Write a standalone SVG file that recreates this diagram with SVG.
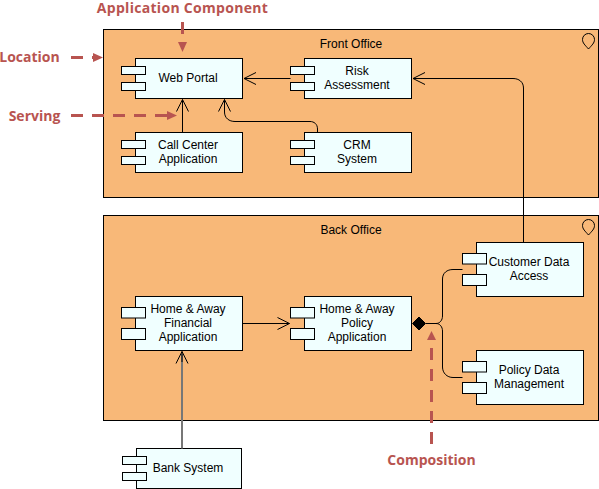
<svg xmlns="http://www.w3.org/2000/svg" width="599" height="489" viewBox="0 0 599 489">
<defs>
<style>
.loc{fill:#F8B878;stroke:#000;stroke-width:1}
.body,.tab{fill:#F0FFFF;stroke:#000;stroke-width:1}
.t{font-family:"Liberation Sans",Arial,sans-serif;font-size:12px;fill:#000;text-anchor:middle}
.pin{fill:none;stroke:#000;stroke-width:1}
.c{fill:none;stroke:#000;stroke-width:1}
.a{fill:none;stroke:#B85450;stroke-width:3;stroke-dasharray:12 9}
.l{font-family:"Open Sans","Liberation Sans",sans-serif;font-weight:700;font-size:14px;fill:#B85450;text-anchor:middle}
</style>
<marker id="open" markerUnits="userSpaceOnUse" markerWidth="16" markerHeight="16" refX="14" refY="7" orient="auto" viewBox="0 0 16 14"><path d="M2 1L14 7L2 13" fill="none" stroke="#000"/></marker>
<marker id="dia" markerUnits="userSpaceOnUse" markerWidth="16" markerHeight="14" refX="14.500" refY="7" orient="auto" viewBox="0 0 16 14"><path d="M1 7L7.500 .5L14 7L7.500 13.500Z" fill="#000" stroke="#000"/></marker>
</defs>
<g id="front-office"><rect class="loc" x="103.500" y="29.500" width="495" height="168"/><text class="t" x="351" y="48">Front Office</text><path class="pin" d="M588.500 49C585 45 582.500 43 582.500 39.500A6 6 0 0 1 594.500 39.500C594.500 43 592 45 588.500 49Z"/></g>
<g id="back-office"><rect class="loc" x="103.500" y="215.500" width="495" height="205"/><text class="t" x="351" y="234">Back Office</text><path class="pin" d="M588.500 235C585 231 582.500 229 582.500 225.500A6 6 0 0 1 594.500 225.500C594.500 229 592 231 588.500 235Z"/></g>
<g id="web-portal"><rect class="body" x="135.500" y="58.500" width="107" height="40"/><rect class="tab" x="121.500" y="66.500" width="24" height="8"/><rect class="tab" x="121.500" y="82.500" width="24" height="8"/><text class="t" x="188" y="82">Web Portal</text></g>
<g id="call-center"><rect class="body" x="135.500" y="132.500" width="107" height="40"/><rect class="tab" x="121.500" y="140.500" width="24" height="8"/><rect class="tab" x="121.500" y="156.500" width="24" height="8"/><text class="t" x="188" y="149">Call Center</text><text class="t" x="188" y="163">Application</text></g>
<g id="risk"><rect class="body" x="304.500" y="58.500" width="107" height="40"/><rect class="tab" x="290.500" y="66.500" width="24" height="8"/><rect class="tab" x="290.500" y="82.500" width="24" height="8"/><text class="t" x="357" y="75">Risk</text><text class="t" x="357" y="89">Assessment</text></g>
<g id="crm"><rect class="body" x="304.500" y="132.500" width="107" height="40"/><rect class="tab" x="290.500" y="140.500" width="24" height="8"/><rect class="tab" x="290.500" y="156.500" width="24" height="8"/><text class="t" x="357" y="149">CRM</text><text class="t" x="357" y="163">System</text></g>
<g id="customer"><rect class="body" x="476.500" y="242.500" width="107" height="54"/><rect class="tab" x="462.500" y="253.500" width="24" height="10.500"/><rect class="tab" x="462.500" y="274.500" width="24" height="11"/><text class="t" x="529" y="266">Customer Data</text><text class="t" x="529" y="280">Access</text></g>
<g id="policy-data"><rect class="body" x="476.500" y="350.500" width="107" height="54"/><rect class="tab" x="462.500" y="361.500" width="24" height="10.500"/><rect class="tab" x="462.500" y="382.500" width="24" height="11"/><text class="t" x="529" y="374">Policy Data</text><text class="t" x="529" y="388">Management</text></g>
<g id="financial"><rect class="body" x="135.500" y="296.500" width="107" height="54"/><rect class="tab" x="121.500" y="307.500" width="24" height="10.500"/><rect class="tab" x="121.500" y="328.500" width="24" height="11"/><text class="t" x="188" y="313">Home &amp; Away</text><text class="t" x="188" y="327">Financial</text><text class="t" x="188" y="341">Application</text></g>
<g id="policy-app"><rect class="body" x="304.500" y="296.500" width="107" height="54"/><rect class="tab" x="290.500" y="307.500" width="24" height="10.500"/><rect class="tab" x="290.500" y="328.500" width="24" height="11"/><text class="t" x="357" y="313">Home &amp; Away</text><text class="t" x="357" y="327">Policy</text><text class="t" x="357" y="341">Application</text></g>
<g id="bank"><rect class="body" x="136.500" y="448.500" width="105" height="40"/><rect class="tab" x="122.500" y="456.500" width="24" height="8"/><rect class="tab" x="122.500" y="472.500" width="24" height="8"/><text class="t" x="188" y="472">Bank System</text></g>
<g id="connectors">
<path class="c" marker-end="url(#open)" d="M290.500 78.500H244"/>
<path class="c" marker-end="url(#open)" d="M182.500 132.500V99.500"/>
<path class="c" marker-end="url(#open)" d="M317.500 132.500V129C317.500 124 314 121.500 310 121.500H235C229 121.500 224.500 118 224.500 112V99.500"/>
<path class="c" marker-end="url(#open)" d="M523.500 242.500V88C523.500 82 519 78.500 513 78.500H413"/>
<path class="c" style="stroke:#777;stroke-width:2" d="M182 448.500V354"/>
<path class="c" marker-end="url(#open)" d="M182 362V351.500"/>
<path class="c" marker-end="url(#open)" d="M242.500 323.500H289.500"/>
<path class="c" marker-start="url(#dia)" d="M426 323.500H436C440 323.500 442.500 320 442.500 316V279C442.500 273 447 269.500 453 269.500H462.500"/>
<path class="c" d="M436 323.500C440 323.500 442.500 327 442.500 331V367C442.500 373 447 377.500 453 377.500H462.500"/>
</g>
<g id="annotations">
<text class="l" x="182.500" y="13" style="letter-spacing:.3px">Application Component</text><path class="a" d="M182.500 22V42"/><path d="M178 42H187L182.500 52Z" fill="#B85450"/>
<text class="l" x="29.500" y="62">Location</text><path class="a" d="M71 57.500H93"/><path d="M93 53V62L103 57.500Z" fill="#B85450"/>
<text class="l" x="34.500" y="121">Serving</text><path class="a" d="M71 115.500H167"/><path d="M167 111V120L177 115.500Z" fill="#B85450"/>
<text class="l" x="431.500" y="465">Composition</text><path class="a" d="M431.500 444V341"/><path d="M427 340H436L431.500 331Z" fill="#B85450"/>
</g>
</svg>
